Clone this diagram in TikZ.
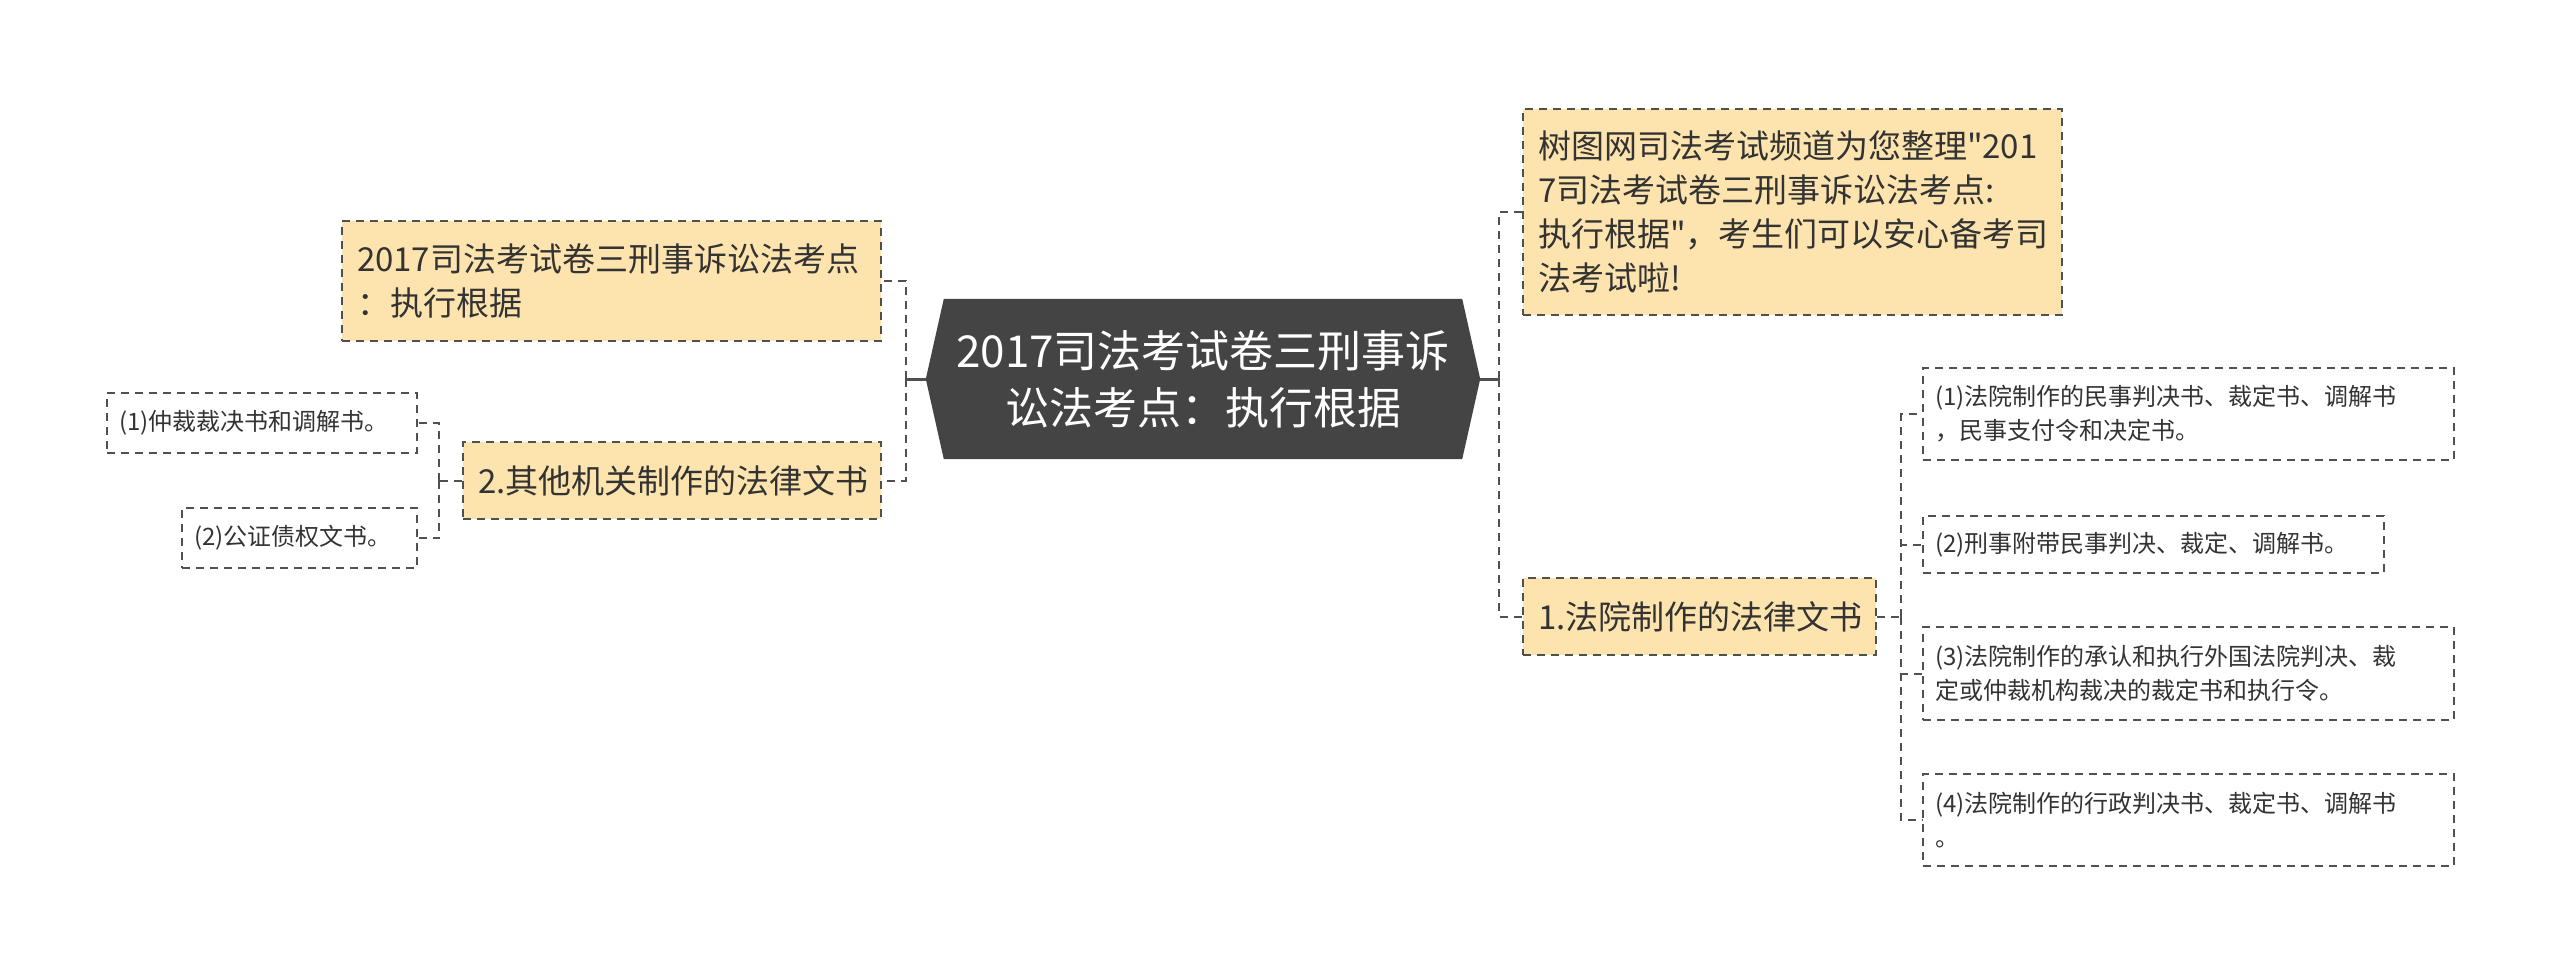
\documentclass[tikz,border=0pt]{standalone}
\usepackage{fontspec}
\newfontfamily\cjk{Noto Sans CJK SC}
\usepackage{tikz}
\usetikzlibrary{positioning,backgrounds}
\usepackage{xcolor}
\definecolor{hubgray}{HTML}{444444}
\definecolor{peach}{HTML}{FDE4AE}
\definecolor{edgegray}{HTML}{505050}
\definecolor{inkgray}{HTML}{333333}

\begin{document}
\begin{tikzpicture}[
  x=1pt, y=1pt,
  box/.style={draw=edgegray, line width=2pt, dash pattern=on 8pt off 6pt, align=left, text=inkgray},
  topic/.style={box, fill=peach, inner xsep=15pt, font=\cjk\fontsize{33}{44}\selectfont},
  leaf/.style={box, fill=white, inner xsep=12pt, font=\cjk\fontsize{24}{34}\selectfont},
  hub/.style={align=center, text=white, inner sep=0pt, minimum width=554pt, minimum height=160pt, font=\cjk\fontsize{44}{57}\selectfont},
  link/.style={draw=edgegray, line width=2pt, dash pattern=on 8pt off 6pt},
  stem/.style={draw=edgegray, line width=3pt}
]
\useasboundingbox (0,0) rectangle (2560,-967);
\node[hub] (hub) at (1203,-379) {2017司法考试卷三刑事诉\\讼法考点：执行根据};
\node[topic, text width=509pt, minimum height=206pt, anchor=north west] (tip) at (1522,-108) {树图网司法考试频道为您整理"201\\7司法考试卷三刑事诉讼法考点:\\执行根据"，考生们可以安心备考司\\法考试啦!};
\node[topic, text width=323pt, minimum height=77pt, below=261pt of tip.south west, anchor=north west] (court) {1.法院制作的法律文书};
\node[leaf, text width=507pt, minimum height=92pt, anchor=north west] (c1) at (1922,-367) {(1)法院制作的民事判决书、裁定书、调解书\\，民事支付令和决定书。};
\node[leaf, text width=437pt, minimum height=57pt, below=54pt of c1.south west, anchor=north west] (c2) {(2)刑事附带民事判决、裁定、调解书。};
\node[leaf, text width=507pt, minimum height=93pt, below=52pt of c2.south west, anchor=north west] (c3) {(3)法院制作的承认和执行外国法院判决、裁\\定或仲裁机构裁决的裁定书和执行令。};
\node[leaf, text width=507pt, minimum height=92pt, below=52pt of c3.south west, anchor=north west] (c4) {(4)法院制作的行政判决书、裁定书、调解书\\。};
\node[topic, text width=509pt, minimum height=120pt, anchor=north east] (title) at (882,-220) {2017司法考试卷三刑事诉讼法考点\\：执行根据};
\node[topic, text width=388pt, minimum height=77pt, below=99pt of title.south east, anchor=north east] (other) {2.其他机关制作的法律文书};
\node[leaf, text width=286pt, minimum height=60pt, anchor=north east] (o1) at (418,-392) {(1)仲裁裁决书和调解书。};
\node[leaf, text width=211pt, minimum height=60pt, below=53pt of o1.south east, anchor=north east] (o2) {(2)公证债权文书。};
\begin{scope}[on background layer]
\fill[hubgray] (hub.west) -- ([xshift=18pt]hub.north west) -- ([xshift=-18pt]hub.north east) -- (hub.east) -- ([xshift=-18pt]hub.south east) -- ([xshift=18pt]hub.south west) -- cycle;
\end{scope}
\coordinate (rj) at ([xshift=19pt]hub.east);
\coordinate (lj) at ([xshift=-20pt]hub.west);
\coordinate (cj) at ([xshift=24pt]court.east);
\coordinate (oj) at ([xshift=-23pt]other.west);
\draw[stem] (hub.east) -- (rj);
\draw[link] (rj) |- (tip.west);
\draw[link] (rj) |- (court.west);
\draw[stem] (hub.west) -- (lj);
\draw[link] (lj) |- (title.east);
\draw[link] (lj) |- (other.east);
\draw[link] (court.east) -- (cj);
\draw[link] (cj) |- (c1.west);
\draw[link] (cj) |- (c2.west);
\draw[link] (cj) |- (c3.west);
\draw[link] (cj) |- (c4.west);
\draw[link] (other.west) -- (oj);
\draw[link] (oj) |- (o1.east);
\draw[link] (oj) |- (o2.east);
\end{tikzpicture}
\end{document}
